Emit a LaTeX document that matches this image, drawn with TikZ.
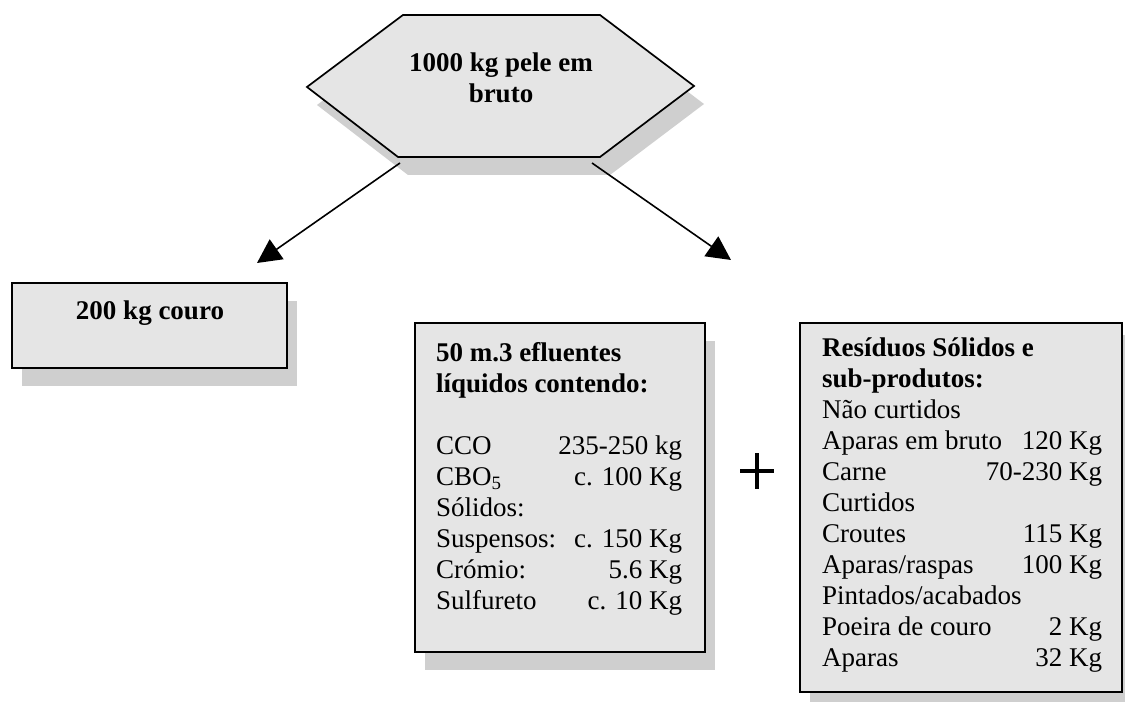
\documentclass[tikz,border=0pt]{standalone}
\usepackage{fontspec}
\setmainfont{Liberation Serif}
\usetikzlibrary{arrows.meta}

\definecolor{panel}{HTML}{E5E5E5}
\definecolor{shade}{HTML}{CFCFCF}

% restore the font's own interword spacing inside aligned nodes
\newcommand{\fontspaces}{\spaceskip=0pt\relax\xspaceskip=0pt\relax}

\tikzset{
  x=1pt, y=-1pt,
  bodytext/.style={font=\fontsize{27}{31}\selectfont, inner sep=0pt, align=left},
  headtext/.style={font=\fontsize{27}{31}\selectfont\bfseries, inner sep=0pt, align=center},
  panelbox/.style={draw=black, line width=1.7pt, fill=panel, line join=miter},
  dropshade/.style={fill=shade, draw=none},
  flow/.style={line width=1.6pt, -{Triangle[length=24pt,width=24pt]}},
  plusbar/.style={line width=4.5pt},
}

\begin{document}
\begin{tikzpicture}
\useasboundingbox (0,0) rectangle (1125,711);

% drop shadows
\begin{scope}[shift={(10,18)}]
  \fill[dropshade] (307,87) -- (403,15) -- (600,15) -- (694,86) -- (600,157) -- (398,157) -- cycle;
  \fill[dropshade] (12,283) rectangle (287,368);
  \fill[dropshade] (415,323) rectangle (705,652);
\end{scope}
\fill[dropshade] (810,335) rectangle (1135,702);

% source hexagon
\draw[panelbox] (307,87) -- (403,15) -- (600,15) -- (694,86) -- (600,157) -- (398,157) -- cycle;
\node[headtext, anchor=base] (source) at (501,103) {\fontspaces 1000 kg pele em\\bruto};

% output boxes
\draw[panelbox] (12,283) rectangle (287,368);
\node[headtext, anchor=base] (leather) at (150,320) {\fontspaces 200 kg couro};

\draw[panelbox] (415,323) rectangle (705,652);
\node[bodytext, text width=246pt, anchor=base west] (effluent) at (436,362) {\fontspaces
\textbf{50 m.3 efluentes}\\
\textbf{líquidos contendo:}\\[31pt]
CCO\hspace*{\fill}235-250 kg\hspace*{5pt}\\
CBO\textsubscript{5}\hspace*{\fill}c. 100 Kg\hspace*{12pt}\\
Sólidos:\\
Suspensos:\hspace*{\fill}c. 150 Kg\\
Crómio:\hspace*{\fill}5.6 Kg\\
Sulfureto\hspace*{\fill}c. 10 Kg};

\draw[panelbox] (800,323) rectangle (1122,692);
\node[bodytext, text width=280pt, anchor=base west] (solids) at (822,357) {\fontspaces
\textbf{Resíduos Sólidos e}\\
\textbf{sub-produtos:}\\
Não curtidos\\
Aparas em bruto\hspace*{\fill}120 Kg\\
Carne\hspace*{\fill}70-230 Kg\\
Curtidos\\
Croutes\hspace*{\fill}115 Kg\\
Aparas/raspas\hspace*{\fill}100 Kg\\
Pintados/acabados\\
Poeira de couro\hspace*{\fill}2 Kg\hspace*{4pt}\\
Aparas\hspace*{\fill}32 Kg};

% plus sign between the two lists
\coordinate (plus) at (757,471);
\draw[plusbar] ([xshift=-17pt]plus) -- ([xshift=17pt]plus);
\draw[plusbar] ([yshift=18pt]plus) -- ([yshift=-18pt]plus);

% split arrows
\coordinate (hexBL) at (400,163);
\coordinate (hexBR) at (592,163);
\coordinate (tipL) at (257,263);
\coordinate (tipR) at (731,260);
\draw[flow] (hexBL) -- (tipL);
\draw[flow] (hexBR) -- (tipR);
\end{tikzpicture}
\end{document}
